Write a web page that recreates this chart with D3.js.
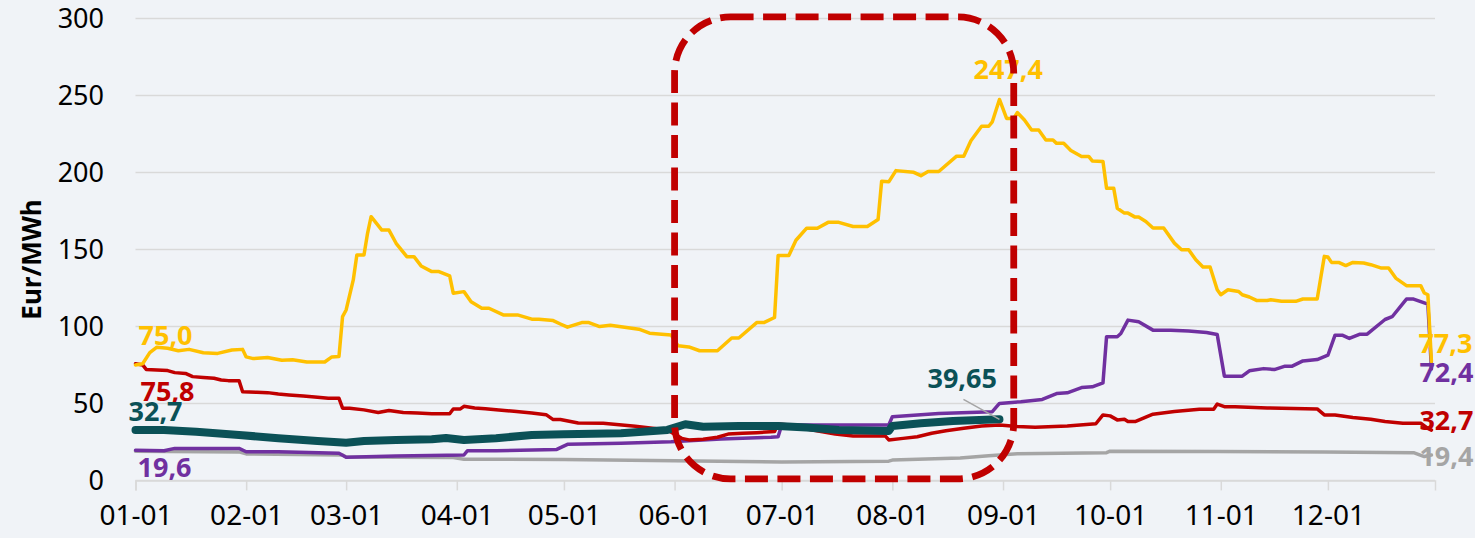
<!DOCTYPE html>
<html>
<head>
<meta charset="utf-8">
<script src="https://cdn.jsdelivr.net/npm/d3@7"></script>
<style>
  html, body { margin: 0; padding: 0; background: #F0F3F7; }
  svg { display: block; font-family: "Noto Sans", "Open Sans", sans-serif; }
</style>
</head>
<body>
<svg width="1475" height="538"></svg>
<script>
// Values (date MM-DD, Eur/MWh)
const yellowSeries = [
  ["01-01", 75.0], ["01-03", 75.8], ["01-05", 83.0], ["01-07", 86.5], ["01-10", 85.8],
  ["01-13", 84.2], ["01-16", 85.1], ["01-20", 82.9], ["01-24", 82.5], ["01-28", 84.7],
  ["01-31", 85.1], ["02-01", 80.2], ["02-03", 79.1], ["02-07", 79.8], ["02-11", 78.0],
  ["02-14", 78.4], ["02-18", 76.9], ["02-23", 76.9], ["02-25", 80.2], ["02-27", 80.5],
  ["02-28", 106.4], ["03-01", 110.7], ["03-03", 130.2], ["03-04", 146.4], ["03-06", 146.4],
  ["03-07", 160.5], ["03-08", 171.3], ["03-11", 162.6], ["03-13", 162.6], ["03-15", 154.0],
  ["03-18", 145.3], ["03-20", 145.3], ["03-22", 139.3], ["03-25", 135.6], ["03-27", 135.6],
  ["03-30", 132.8], ["03-31", 121.6], ["04-03", 122.6], ["04-05", 116.1], ["04-08", 111.8],
  ["04-10", 111.8], ["04-14", 107.5], ["04-18", 107.5], ["04-22", 104.7], ["04-24", 104.7],
  ["04-28", 103.8], ["04-30", 101.6], ["05-02", 99.5], ["05-06", 102.5], ["05-08", 102.5],
  ["05-11", 99.9], ["05-14", 100.8], ["05-18", 99.5], ["05-22", 98.2], ["05-25", 95.6],
  ["05-31", 94.5], ["06-02", 87.4], ["06-05", 86.7], ["06-08", 84.2], ["06-13", 84.2],
  ["06-17", 92.5], ["06-19", 92.5], ["06-24", 102.5], ["06-26", 102.5], ["06-29", 105.8],
  ["06-30", 146.0], ["07-03", 146.0], ["07-05", 156.0], ["07-08", 163.8], ["07-11", 163.8],
  ["07-14", 167.6], ["07-17", 167.6], ["07-21", 164.9], ["07-25", 164.9], ["07-28", 169.4],
  ["07-29", 194.3], ["07-31", 193.9], ["08-02", 201.2], ["08-07", 200.1], ["08-09", 197.9],
  ["08-11", 200.6], ["08-14", 200.6], ["08-19", 210.6], ["08-21", 210.6], ["08-23", 220.6],
  ["08-26", 230.0], ["08-28", 230.0], ["08-29", 232.9], ["08-31", 247.4], ["09-02", 235.1],
  ["09-04", 235.1], ["09-05", 238.9], ["09-07", 234.1], ["09-09", 227.6], ["09-11", 227.6],
  ["09-13", 221.1], ["09-15", 221.1], ["09-16", 218.9], ["09-18", 218.9], ["09-20", 214.3],
  ["09-23", 210.4], ["09-25", 210.4], ["09-26", 207.5], ["09-29", 207.1], ["09-30", 189.8],
  ["10-02", 189.8], ["10-03", 176.8], ["10-05", 173.6], ["10-06", 173.6], ["10-08", 171.0],
  ["10-09", 171.0], ["10-11", 168.2], ["10-13", 163.9], ["10-16", 163.9], ["10-19", 154.1],
  ["10-21", 149.8], ["10-23", 149.8], ["10-25", 143.3], ["10-27", 138.6], ["10-29", 138.6],
  ["10-31", 123.8], ["11-01", 120.6], ["11-03", 123.8], ["11-06", 122.7], ["11-07", 120.6],
  ["11-09", 119.1], ["11-11", 116.9], ["11-14", 116.9], ["11-15", 117.3], ["11-18", 116.3],
  ["11-22", 116.3], ["11-24", 117.8], ["11-28", 117.8], ["11-30", 145.5], ["12-01", 145.1],
  ["12-02", 141.6], ["12-04", 141.6], ["12-06", 139.5], ["12-08", 141.6], ["12-11", 141.2],
  ["12-13", 140.1], ["12-16", 137.9], ["12-18", 137.9], ["12-20", 131.4], ["12-23", 126.5],
  ["12-27", 126.5], ["12-28", 121.7], ["12-29", 120.6], ["12-30", 77.3]
];

const redSeries = [
  ["01-01", 75.8], ["01-03", 75.0], ["01-04", 72.1], ["01-07", 71.7], ["01-10", 71.3],
  ["01-12", 70.0], ["01-15", 69.5], ["01-17", 67.4], ["01-20", 66.9], ["01-23", 66.3],
  ["01-25", 65.2], ["01-27", 64.8], ["01-30", 64.8], ["01-31", 57.6], ["02-04", 57.2],
  ["02-07", 57.0], ["02-10", 56.1], ["02-13", 55.5], ["02-17", 54.8], ["02-21", 54.0],
  ["02-24", 53.3], ["02-27", 53.3], ["02-28", 46.9], ["03-02", 46.9], ["03-06", 45.8],
  ["03-10", 44.1], ["03-13", 45.4], ["03-17", 44.1], ["03-21", 43.7], ["03-25", 43.3],
  ["03-30", 43.3], ["03-31", 46.4], ["04-02", 46.4], ["04-03", 48.1], ["04-06", 47.0],
  ["04-09", 46.6], ["04-12", 45.9], ["04-17", 44.9], ["04-22", 43.8], ["04-26", 42.7],
  ["04-28", 39.5], ["04-30", 39.5], ["05-05", 37.3], ["05-12", 37.1], ["05-21", 35.1],
  ["05-30", 32.7], ["06-03", 27.3], ["06-05", 26.3], ["06-09", 26.7], ["06-13", 28.0],
  ["06-16", 30.1], ["06-20", 30.6], ["06-24", 31.0], ["06-29", 31.7], ["06-30", 36.6],
  ["07-03", 36.0], ["07-07", 33.8], ["07-12", 31.7], ["07-16", 30.2], ["07-21", 28.9],
  ["07-30", 28.9], ["07-31", 26.3], ["08-04", 27.3], ["08-08", 28.4], ["08-12", 30.6],
  ["08-16", 32.3], ["08-21", 33.8], ["08-26", 35.3], ["08-31", 36.0], ["09-05", 35.0],
  ["09-10", 34.6], ["09-19", 35.4], ["09-27", 36.8], ["09-29", 42.5], ["10-01", 41.9],
  ["10-03", 39.3], ["10-05", 39.7], ["10-06", 38.2], ["10-08", 38.2], ["10-13", 43.0],
  ["10-19", 44.7], ["10-26", 46.2], ["10-30", 46.2], ["10-31", 49.6], ["11-02", 47.9],
  ["11-05", 47.9], ["11-14", 47.0], ["11-28", 46.4], ["11-30", 42.5], ["12-03", 42.5],
  ["12-08", 40.8], ["12-13", 39.7], ["12-17", 38.2], ["12-22", 37.1], ["12-27", 37.1],
  ["12-29", 33.8], ["12-30", 32.7]
];

const purpleSeries = [
  ["01-01", 19.6], ["01-09", 19.3], ["01-12", 20.8], ["01-30", 20.8], ["02-01", 18.6],
  ["02-10", 18.6], ["02-27", 17.6], ["03-01", 15.0], ["03-15", 15.9], ["04-03", 16.5],
  ["04-04", 19.3], ["04-12", 19.3], ["04-29", 20.1], ["05-02", 23.4], ["05-06", 23.6],
  ["05-17", 24.1], ["05-31", 25.1], ["06-14", 26.9], ["06-28", 28.0], ["06-30", 28.4],
  ["07-01", 36.0], ["07-31", 36.0], ["08-01", 41.4], ["08-04", 41.8], ["08-14", 43.5],
  ["08-29", 44.6], ["08-31", 50.0], ["09-06", 51.1], ["09-12", 52.6], ["09-16", 56.4],
  ["09-19", 56.9], ["09-23", 60.3], ["09-26", 60.8], ["09-29", 63.4], ["09-30", 93.3],
  ["10-03", 93.3], ["10-04", 95.4], ["10-06", 104.1], ["10-09", 103.0], ["10-13", 97.6],
  ["10-18", 97.6], ["10-23", 97.1], ["10-28", 96.0], ["10-31", 94.7], ["11-02", 67.7],
  ["11-07", 67.7], ["11-09", 71.2], ["11-13", 72.6], ["11-16", 72.0], ["11-19", 74.2],
  ["11-21", 74.2], ["11-24", 77.6], ["11-28", 78.5], ["12-01", 81.3], ["12-03", 94.3],
  ["12-05", 94.3], ["12-07", 92.2], ["12-10", 95.0], ["12-12", 95.0], ["12-17", 104.5],
  ["12-19", 106.3], ["12-23", 117.8], ["12-25", 117.8], ["12-29", 114.5], ["12-30", 72.4]
];

const greySeries = [
  ["01-01", 19.0], ["01-30", 18.5], ["02-01", 17.2], ["02-28", 16.5], ["03-01", 15.2],
  ["03-31", 14.8], ["04-03", 13.8], ["05-01", 13.5], ["06-01", 12.8], ["07-01", 12.0],
  ["07-31", 12.5], ["08-01", 13.2], ["08-20", 14.5], ["08-28", 16.0], ["09-05", 17.3],
  ["09-30", 18.0], ["10-01", 19.0], ["10-31", 18.8], ["11-30", 18.5], ["12-25", 18.0],
  ["12-28", 15.5], ["12-30", 16.5]
];

const tealSeries = [
  ["01-01", 32.7], ["01-09", 32.7], ["01-18", 31.6], ["01-30", 29.5], ["02-10", 27.4],
  ["02-21", 25.6], ["03-01", 24.5], ["03-06", 25.6], ["03-15", 26.3], ["03-25", 26.7],
  ["03-29", 27.6], ["04-03", 26.3], ["04-12", 27.4], ["04-22", 29.5], ["05-01", 30.0],
  ["05-17", 30.6], ["05-30", 32.8], ["06-04", 36.5], ["06-09", 34.9], ["06-19", 35.4],
  ["06-30", 35.4], ["07-08", 34.3], ["07-17", 32.8], ["07-31", 32.1], ["08-01", 35.4],
  ["08-09", 37.1], ["08-18", 38.6], ["08-31", 39.65]
];

const yTicks = [0, 50, 100, 150, 200, 250, 300];
const highlightDates = ["06-01", "09-04"];
const highlightRange = [1, 301];

const year = 2022;
const parse = d3.timeParse("%Y-%m-%d");
const toPoints = s => s.map(([d, v]) => ({ date: parse(`${year}-${d}`), value: v }));

const svg = d3.select("svg");
const margin = { left: 135.5, right: 1435, top: 18.5, bottom: 480.4 };

const x = d3.scaleTime()
  .domain([new Date(year, 0, 1), new Date(year, 11, 31)])
  .range([margin.left, margin.right]);
const y = d3.scaleLinear().domain([0, 300]).range([margin.bottom, margin.top]);

// gridlines
svg.append("g")
  .selectAll("line")
  .data(yTicks)
  .enter()
  .append("line")
  .attr("x1", margin.left)
  .attr("x2", margin.right)
  .attr("y1", d => y(d))
  .attr("y2", d => y(d))
  .attr("stroke", "#D9D9D9")
  .attr("stroke-width", 1.5);

// y axis labels
svg.append("g")
  .selectAll("text")
  .data(yTicks)
  .enter()
  .append("text")
  .attr("x", 104)
  .attr("y", d => y(d))
  .attr("dy", "0.36em")
  .attr("text-anchor", "end")
  .attr("font-size", 27)
  .attr("fill", "#000")
  .text(d => d);

svg.append("text")
  .attr("transform", `translate(41,${(margin.top + margin.bottom) / 2 + 10}) rotate(-90)`)
  .attr("text-anchor", "middle")
  .attr("font-size", 26)
  .attr("font-weight", "bold")
  .text("Eur/MWh");

// x axis
const xAxis = d3.axisBottom(x)
  .ticks(d3.timeMonth.every(1))
  .tickFormat(d3.timeFormat("%m-%d"))
  .tickSize(10)
  .tickPadding(15);

const gx = svg.append("g")
  .attr("transform", `translate(0,${margin.bottom})`)
  .call(xAxis);
gx.select(".domain").attr("stroke", "#D9D9D9").attr("stroke-width", 1.5);
gx.selectAll(".tick line").attr("stroke", "#D9D9D9").attr("stroke-width", 1.5);
gx.selectAll(".tick text")
  .attr("font-size", 28)
  .attr("font-family", "Noto Sans, Open Sans, sans-serif")
  .attr("fill", "#000");

// lines
const line = d3.line().x(d => x(d.date)).y(d => y(d.value));

const series = [
  { name: "grey", data: toPoints(greySeries), color: "#A5A5A5", width: 3.5 },
  { name: "purple", data: toPoints(purpleSeries), color: "#7030A0", width: 3.5 },
  { name: "red", data: toPoints(redSeries), color: "#C00000", width: 3.5 },
  { name: "teal", data: toPoints(tealSeries), color: "#0B5157", width: 8 },
  { name: "yellow", data: toPoints(yellowSeries), color: "#FFC000", width: 3.5 }
];
const byName = {};
series.forEach(s => (byName[s.name] = s));

svg.append("g")
  .selectAll("path")
  .data(series)
  .enter()
  .append("path")
  .attr("d", d => line(d.data))
  .attr("fill", "none")
  .attr("stroke", d => d.color)
  .attr("stroke-width", d => d.width)
  .attr("stroke-linejoin", "round")
  .attr("stroke-linecap", "round");

// data labels (offsets from the anchoring point)
const labels = [
  { s: "yellow", at: "first", dx: 3, dy: -20 },
  { s: "red", at: "first", dx: 5, dy: 37 },
  { s: "teal", at: "first", dx: -7, dy: -9 },
  { s: "purple", at: "first", dx: 2, dy: 27 },
  { s: "yellow", at: "last", dx: -13, dy: -8 },
  { s: "purple", at: "last", dx: -12, dy: 13 },
  { s: "red", at: "last", dx: -12, dy: 0 },
  { s: "grey", at: "last", dx: -12, dy: 11 },
  { s: "yellow", at: "max", dx: -26, dy: -20 },
  { s: "teal", at: "last", dx: -72, dy: -31 }
];
const fmt = v => (v === 39.65 ? "39,65" : v.toFixed(1).replace(".", ","));

labels.forEach(l => {
  const s = byName[l.s];
  let p;
  if (l.at === "first") p = s.data[0];
  else if (l.at === "last") p = s.data[s.data.length - 1];
  else p = s.data.reduce((a, b) => (b.value > a.value ? b : a));
  const label = l.s === "grey" && l.at === "last" ? 19.4 : p.value;
  svg.append("text")
    .attr("x", x(p.date) + l.dx)
    .attr("y", y(p.value) + l.dy)
    .attr("font-size", 27)
    .attr("font-weight", "bold")
    .attr("fill", s.color)
    .text(fmt(label));
  if (l.s === "teal" && l.at === "last") {
    svg.append("line")
      .attr("x1", x(p.date) - 36)
      .attr("y1", y(p.value) - 20)
      .attr("x2", x(p.date))
      .attr("y2", y(p.value))
      .attr("stroke", "#A5A5A5")
      .attr("stroke-width", 1.5);
  }
});

// highlight box
const hx0 = x(parse(`${year}-${highlightDates[0]}`));
const hx1 = x(parse(`${year}-${highlightDates[1]}`));
svg.append("rect")
  .attr("x", hx0)
  .attr("y", y(highlightRange[1]))
  .attr("width", hx1 - hx0)
  .attr("height", y(highlightRange[0]) - y(highlightRange[1]))
  .attr("rx", 56)
  .attr("ry", 56)
  .attr("fill", "none")
  .attr("stroke", "#C00000")
  .attr("stroke-width", 6.8)
  .attr("stroke-dasharray", "23,9.5");
</script>
</body>
</html>
